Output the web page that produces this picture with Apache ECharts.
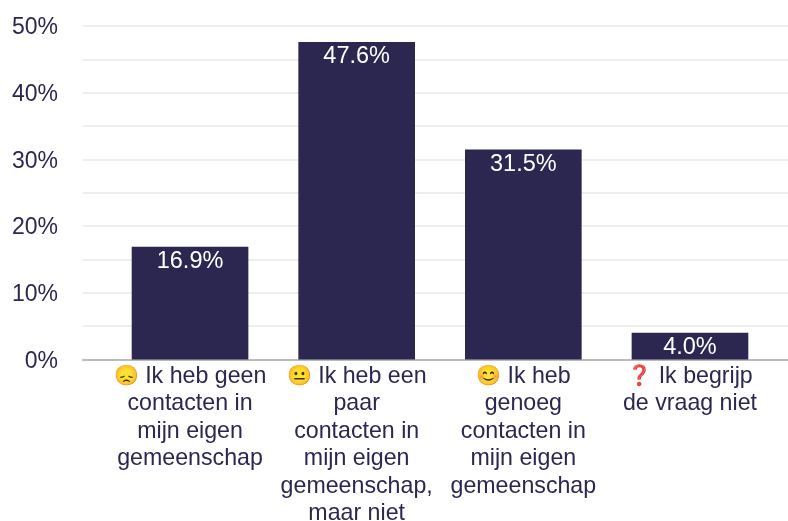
<!DOCTYPE html>
<html>
<head>
<meta charset="utf-8">
<style>
  html, body { margin: 0; padding: 0; background: #fff; }
  #chart { width: 788px; height: 521px; }
</style>
<script src="https://cdn.jsdelivr.net/npm/echarts@6/dist/echarts.min.js"></script>
</head>
<body>
<div id="chart"></div>
<script>
const emojis = ['😞', '😐', '😊', '❓'];
const categories = [
  'Ik heb geen\ncontacten in\nmijn eigen\ngemeenschap',
  'Ik heb een\npaar\ncontacten in\nmijn eigen\ngemeenschap,\nmaar niet',
  'Ik heb\ngenoeg\ncontacten in\nmijn eigen\ngemeenschap',
  'Ik begrijp\nde vraag niet'
];
const values = [16.9, 47.6, 31.5, 4.0];
const yMax = 50;
const yStep = 5;

const ink = '#2b2750';
const font = '"Liberation Sans", Arial, sans-serif';

const chart = echarts.init(document.getElementById('chart'));
chart.setOption({
  animation: false,
  // grid 0 carries the long gridlines, grid 1 the inset bars
  grid: [
    { left: 83, right: 0, top: 26, bottom: 161.5, outerBoundsMode: 'none' },
    { left: 106.7, right: 14.7, top: 26, bottom: 161.5, outerBoundsMode: 'none' }
  ],
  xAxis: [
    {
      gridIndex: 0, type: 'category', data: [''],
      axisLine: { show: true, lineStyle: { color: '#bbbbbb', width: 2 } },
      axisTick: { show: false },
      axisLabel: { show: false }
    },
    {
      gridIndex: 1, type: 'category', data: categories,
      axisLine: { show: false },
      axisTick: { show: false },
      axisLabel: {
        interval: 0, color: ink, fontFamily: font, fontSize: 23.2,
        lineHeight: 27.5, margin: 3, align: 'center', verticalAlign: 'top',
        formatter: (v, i) => '{e|' + emojis[i] + '} ' + v,
        rich: {
          e: { fontSize: 20, lineHeight: 27.5, fontFamily: font }
        }
      }
    }
  ],
  yAxis: [
    {
      gridIndex: 0, type: 'value', min: 0, max: yMax, interval: yStep,
      axisLine: { show: false },
      axisTick: { show: false },
      splitLine: { lineStyle: { color: '#eeeeee', width: 2 } },
      axisLabel: {
        color: ink, fontFamily: font, fontSize: 23, margin: 25,
        // small line box hung below the tick nudges the text down
        verticalAlign: 'top', lineHeight: 4,
        formatter: v => (v % 10 === 0 ? v + '%' : '')
      }
    },
    {
      gridIndex: 1, type: 'value', min: 0, max: yMax, interval: yStep,
      show: false
    }
  ],
  series: [{
    type: 'bar',
    xAxisIndex: 1,
    yAxisIndex: 1,
    data: values,
    barWidth: '70%',
    itemStyle: { color: '#2b2750' },
    label: {
      show: true, position: 'insideTop', distance: 3,
      color: '#ffffff', fontFamily: font, fontSize: 23.5,
      formatter: p => p.value.toFixed(1) + '%'
    }
  }]
});
</script>
</body>
</html>
